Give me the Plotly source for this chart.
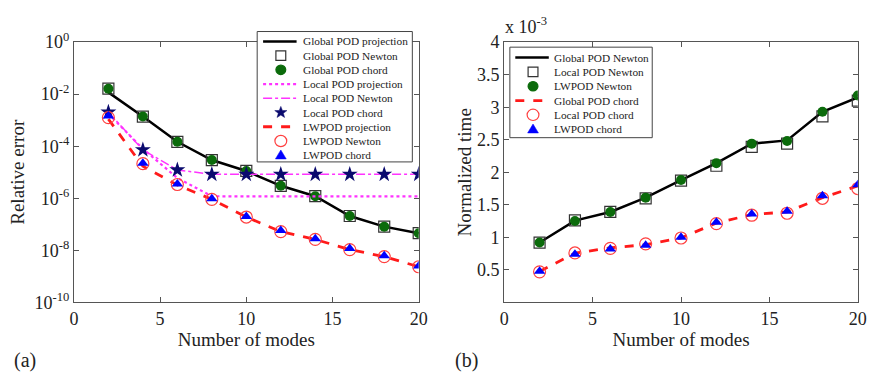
import math
import plotly.graph_objects as go

modes = [2, 4, 6, 8, 10, 12, 14, 16, 18, 20]

# (a) relative error, log10 values
glob_proj = [-1.93, -2.86, -3.83, -4.53, -4.95, -5.52, -5.92, -6.68, -7.09, -7.34]
glob_newton = [-1.79, -2.86, -3.83, -4.53, -4.95, -5.52, -5.92, -6.68, -7.09, -7.34]
glob_chord = [-1.79, -2.86, -3.83, -4.53, -4.95, -5.52, -5.92, -6.68, -7.09, -7.34]
loc_proj = [-2.75, -4.10, -5.22, -5.92, -5.93, -5.93, -5.93, -5.93, -5.93, -5.93]
loc_newton = [-2.69, -4.14, -4.91, -5.08, -5.08, -5.08, -5.08, -5.08, -5.08, -5.08]
loc_chord = [-2.69, -4.14, -4.91, -5.08, -5.08, -5.08, -5.08, -5.08, -5.08, -5.08]
lw_proj = [-2.96, -4.77, -5.49, -6.04, -6.72, -7.28, -7.58, -7.97, -8.24, -8.63]
lw_newton = [-2.90, -4.67, -5.47, -6.04, -6.72, -7.28, -7.58, -7.97, -8.24, -8.63]
lw_chord = [-2.84, -4.65, -5.45, -6.02, -6.70, -7.24, -7.55, -7.93, -8.21, -8.60]

# (b) normalized time (x 1e-3)
t_glob_newton = [0.92, 1.257, 1.39, 1.61, 1.88, 2.14, 2.44, 2.49, 2.93, 3.15]
t_loc_newton = [0.92, 1.26, 1.39, 1.60, 1.87, 2.10, 2.39, 2.44, 2.86, 3.10]
t_lw_newton = [0.92, 1.25, 1.39, 1.61, 1.88, 2.14, 2.44, 2.48, 2.93, 3.18]
t_glob_chord = [0.476, 0.756, 0.84, 0.886, 0.99, 1.22, 1.35, 1.39, 1.61, 1.79]
t_loc_chord = [0.47, 0.76, 0.83, 0.90, 0.99, 1.21, 1.34, 1.37, 1.60, 1.75]
t_lw_chord = [0.48, 0.74, 0.82, 0.88, 1.00, 1.23, 1.36, 1.40, 1.64, 1.81]

x_ticks = [0, 5, 10, 15, 20]
err_ticks = [0, -2, -4, -6, -8, -10]
time_ticks = [0.5, 1, 1.5, 2, 2.5, 3, 3.5, 4]

FONT = "Liberation Serif, Times New Roman, serif"
W, H = 875, 385
pw = lambda v: 10 ** v

# styles
S_BLACK = dict(color="black", width=2.5)
S_MAG_DOT = dict(color="#ff33ff", width=2.2, dash="dot")
S_MAG_DD = dict(color="#ff33ff", width=1.5, dash="dashdot")
S_RED = dict(color="#ff1a1a", width=2.8, dash="dash")
M_SQ = dict(symbol="square-open", size=11, color="#333333", line=dict(width=1.2))
M_GREEN = dict(symbol="circle", size=10, color="#0b6b0b")
M_STAR = dict(symbol="star", size=12, color="#0a0a6e")
M_RCIRC = dict(symbol="circle-open", size=12, color="#ff4040", line=dict(width=1.2))
M_TRI = dict(symbol="triangle-up", size=10, color="#0000ff")

fig = go.Figure()

def add(x, y, name, xa, ya, mode, line=None, marker=None):
    fig.add_trace(go.Scatter(x=x, y=y, name=name, mode=mode, xaxis=xa, yaxis=ya,
                             showlegend=False, line=line, marker=marker))

left_series = [
    ("Global POD projection", glob_proj, "line", S_BLACK),
    ("Global POD Newton", glob_newton, "sq", M_SQ),
    ("Global POD chord", glob_chord, "gc", M_GREEN),
    ("Local POD projection", loc_proj, "line", S_MAG_DOT),
    ("Local POD Newton", loc_newton, "line", S_MAG_DD),
    ("Local POD chord", loc_chord, "star", M_STAR),
    ("LWPOD projection", lw_proj, "line", S_RED),
    ("LWPOD Newton", lw_newton, "rc", M_RCIRC),
    ("LWPOD chord", lw_chord, "tri", M_TRI),
]
right_series = [
    ("Global POD Newton", t_glob_newton, "line", S_BLACK),
    ("Local POD Newton", t_loc_newton, "sq", M_SQ),
    ("LWPOD Newton", t_lw_newton, "gc", M_GREEN),
    ("Global POD chord", t_glob_chord, "line", S_RED),
    ("Local POD chord", t_loc_chord, "rc", M_RCIRC),
    ("LWPOD chord", t_lw_chord, "tri", M_TRI),
]

for name, vals, kind, sty in left_series:
    ys = [pw(v) for v in vals]
    if kind == "line":
        add(modes, ys, name, "x", "y", "lines", line=sty)
    else:
        add(modes, ys, name, "x", "y", "markers", marker=sty)
for name, vals, kind, sty in right_series:
    if kind == "line":
        add(modes, vals, name, "x2", "y2", "lines", line=sty)
    else:
        add(modes, vals, name, "x2", "y2", "markers", marker=sty)

# ---- hand-built legends (to match compact row spacing) ----
shapes = []
annotations = []
px = lambda x: x / W
py = lambda y: 1 - y / H

def legend_box(series, x0, y0, x1, y1, row0, step, lx0, lx1, mx, tx):
    shapes.append(dict(type="rect", xref="paper", yref="paper", x0=px(x0), x1=px(x1),
                       y0=py(y0), y1=py(y1), fillcolor="white",
                       line=dict(color="#444444", width=1), layer="above"))
    for i, (name, _, kind, sty) in enumerate(series):
        cy = row0 + i * step
        if kind == "line":
            shapes.append(dict(type="line", xref="paper", yref="paper", x0=px(lx0), x1=px(lx1),
                               y0=py(cy), y1=py(cy), layer="above",
                               line=dict(color=sty["color"], width=sty["width"],
                                         dash=sty.get("dash", "solid"))))
        elif kind == "sq":
            r = 5
            shapes.append(dict(type="rect", xref="paper", yref="paper", x0=px(mx - r), x1=px(mx + r),
                               y0=py(cy + r), y1=py(cy - r), layer="above",
                               line=dict(color="#333333", width=1.2)))
        elif kind in ("gc", "rc"):
            r = 5 if kind == "gc" else 6
            fill = "#0b6b0b" if kind == "gc" else "rgba(0,0,0,0)"
            col = "#0b6b0b" if kind == "gc" else "#ff4040"
            shapes.append(dict(type="circle", xref="paper", yref="paper", x0=px(mx - r), x1=px(mx + r),
                               y0=py(cy + r), y1=py(cy - r), layer="above", fillcolor=fill,
                               line=dict(color=col, width=1.2)))
        elif kind == "star":
            pts = []
            for k in range(10):
                rr = 6.5 if k % 2 == 0 else 2.7
                a = -math.pi / 2 + k * math.pi / 5
                pts.append((mx + rr * math.cos(a), cy + rr * math.sin(a)))
            path = "M " + " L ".join("%f,%f" % (px(a), py(b)) for a, b in pts) + " Z"
            shapes.append(dict(type="path", xref="paper", yref="paper", path=path, layer="above",
                               fillcolor="#0a0a6e", line=dict(color="#0a0a6e", width=0.5)))
        elif kind == "tri":
            pts = [(mx, cy - 5.5), (mx + 5.5, cy + 4), (mx - 5.5, cy + 4)]
            path = "M " + " L ".join("%f,%f" % (px(a), py(b)) for a, b in pts) + " Z"
            shapes.append(dict(type="path", xref="paper", yref="paper", path=path, layer="above",
                               fillcolor="#0000ff", line=dict(color="#0000ff", width=0.5)))
        annotations.append(dict(text=name, x=px(tx), y=py(cy), xref="paper", yref="paper",
                                xanchor="left", yanchor="middle", showarrow=False,
                                font=dict(family=FONT, size=11.3, color="#222222")))

legend_box(left_series, 257, 20.7, 414.5, 159, 31.2, 15.08, 263, 297, 281, 301)
legend_box(right_series, 513.5, 37.3, 658, 133.3, 48.3, 15.2, 519, 553, 537, 556.5)

annotations += [
    dict(text="(a)", x=8 / W, y=1 - 370 / H, xref="paper", yref="paper",
         xanchor="left", yanchor="middle", showarrow=False, font=dict(size=20)),
    dict(text="(b)", x=456 / W, y=1 - 370 / H, xref="paper", yref="paper",
         xanchor="left", yanchor="middle", showarrow=False, font=dict(size=20)),
    dict(text="x 10<sup>-3</sup>", x=507 / W, y=1 - 14 / H, xref="paper", yref="paper",
         xanchor="left", yanchor="middle", showarrow=False, font=dict(size=18)),
]

axis_common = dict(showline=True, linecolor="#555555", linewidth=1, mirror="ticks",
                   ticks="inside", ticklen=5, tickcolor="#555555", showgrid=False,
                   zeroline=False, tickfont=dict(family=FONT, size=18, color="#222222"))

fig.update_layout(
    width=W, height=H, margin=dict(l=0, r=0, t=0, b=0),
    paper_bgcolor="white", plot_bgcolor="white",
    font=dict(family=FONT, color="#222222"),
    showlegend=False,
    xaxis=dict(domain=[0.0811, 0.4811], range=[0, 20], tickvals=x_ticks,
               title=dict(text="Number of modes", font=dict(size=19), standoff=2), **axis_common),
    yaxis=dict(domain=[0.2, 0.917], type="log", range=[-10, 0], anchor="x",
               tickvals=[pw(v) for v in err_ticks],
               ticktext=["10<sup>%d</sup>" % v for v in err_ticks],
               title=dict(text="Relative error", font=dict(size=19), standoff=4), **axis_common),
    xaxis2=dict(domain=[0.5803, 0.9905], range=[0, 20], tickvals=x_ticks, anchor="y2",
                title=dict(text="Number of modes", font=dict(size=19), standoff=2), **axis_common),
    yaxis2=dict(domain=[0.2, 0.917], range=[0, 4], anchor="x2", tickvals=time_ticks,
                ticktext=[("%g" % v) for v in time_ticks],
                title=dict(text="Normalized time", font=dict(size=19), standoff=0), **axis_common),
    shapes=shapes,
    annotations=annotations,
)

fig.write_html("out.html")
